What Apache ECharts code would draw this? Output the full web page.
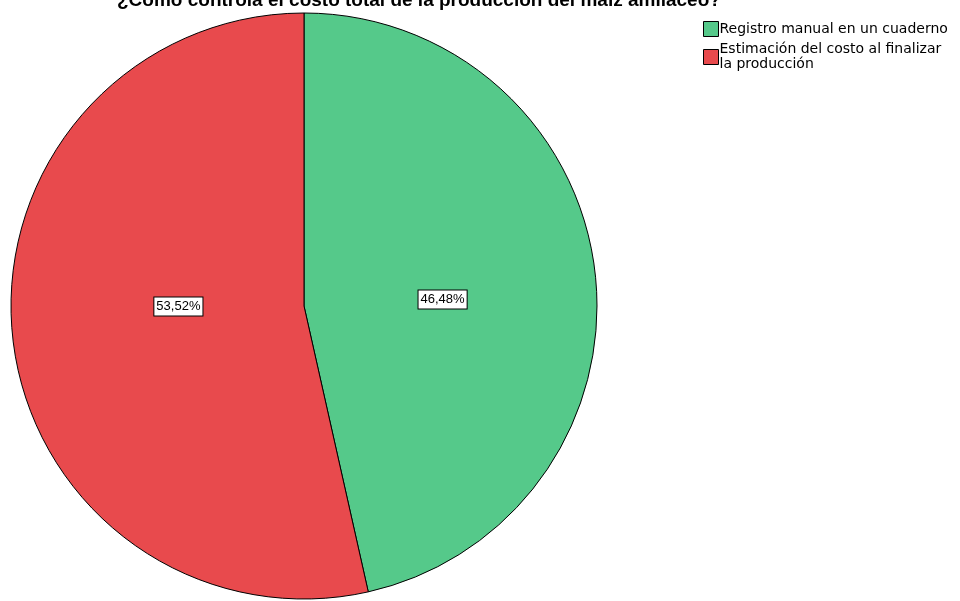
<!DOCTYPE html>
<html><head><meta charset="utf-8">
<script src="https://cdn.jsdelivr.net/npm/echarts@6/dist/echarts.min.js"></script>
<style>html,body{margin:0;padding:0;background:#fff}#c{width:960px;height:601px}</style>
</head><body><div id="c"></div>
<script>
const titleText = '¿Cómo controla el costo total de la producción del maíz amiláceo?';
const categories = ['Registro manual en un cuaderno', 'Estimación del costo al finalizar la producción'];
const legendLabels = ['Registro manual en un cuaderno', 'Estimación del costo al finalizar\nla producción'];
const values = [46.48, 53.52];
const colors = ['#55C98A', '#E84A4D'];
const labelOffsets = [[-10, 10], [23, -16]];

const chart = echarts.init(document.getElementById('c'));
chart.setOption({
  backgroundColor: '#ffffff',
  animation: false,
  title: {
    text: titleText, left: 112, top: -14,
    textStyle: { fontFamily: 'Liberation Sans', fontWeight: 'bold', fontSize: 19, color: '#000' }
  },
  legend: {
    orient: 'vertical', left: 698, top: 16, itemWidth: 15, itemHeight: 15, itemGap: 5,
    icon: 'rect',
    formatter: n => legendLabels[categories.indexOf(n)],
    itemStyle: { borderColor: '#000', borderWidth: 1 },
    textStyle: { fontFamily: 'DejaVu Sans', fontSize: 14, color: '#000', lineHeight: 15, padding: [0,0,0,-4] },
    data: categories
  },
  series: [{
    type: 'pie', center: [304, 306], radius: 293, startAngle: 90, clockwise: true,
    label: {
      position: 'inside', formatter: p => p.value.toFixed(2).replace('.', ',') + '%',
      fontFamily: 'Liberation Sans', fontSize: 13, color: '#000',
      backgroundColor: '#fff', borderColor: '#000', borderWidth: 1, padding: [3, 2, 2, 2]
    },
    labelLine: { show: false },
    itemStyle: { borderColor: '#000', borderWidth: 1 },
    emphasis: { disabled: true },
    data: categories.map((c, i) => ({ name: c, value: values[i], itemStyle: { color: colors[i] }, label: { offset: labelOffsets[i] } }))
  }]
});
</script></body></html>
